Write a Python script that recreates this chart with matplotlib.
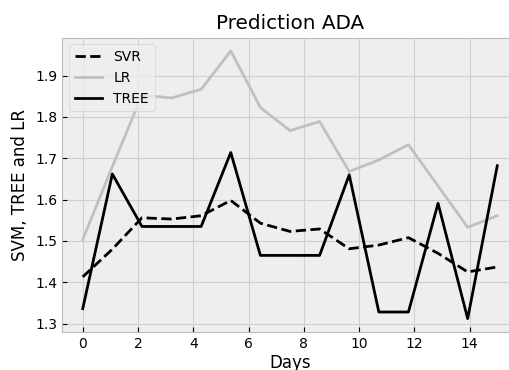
import numpy as np
import matplotlib
matplotlib.use("Agg")
import matplotlib.pyplot as plt

plt.style.use('bmh')

days = np.linspace(0, 15, 15)
svr = [1.413, 1.48, 1.556, 1.553, 1.561, 1.598, 1.543, 1.523, 1.529, 1.481, 1.49, 1.508, 1.47, 1.425, 1.437]
lr = [1.503, 1.68, 1.853, 1.846, 1.867, 1.960, 1.823, 1.767, 1.789, 1.668, 1.696, 1.733, 1.633, 1.533, 1.561]
tree = [1.336, 1.662, 1.535, 1.535, 1.535, 1.714, 1.465, 1.465, 1.465, 1.660, 1.328, 1.328, 1.591, 1.312, 1.682]

fig = plt.figure(figsize=(5.09, 3.70), dpi=100)
ax = fig.add_axes([62/509, (370-332)/370, (518-62)/509, (332-37.5)/370])
ax.grid(True, linestyle='-', color='#cfcfcf', linewidth=0.8)
ax.plot(days, svr, color='black', linestyle='--', label='SVR')
ax.plot(days, lr, color='silver', label='LR')
ax.plot(days, tree, color='black', label='TREE')
ax.set_title('Prediction ADA')
ax.set_xlabel('Days', labelpad=2)
ax.set_ylabel('SVM, TREE and LR')
ax.legend(loc='upper left')
fig.savefig('out.png', dpi=100)
